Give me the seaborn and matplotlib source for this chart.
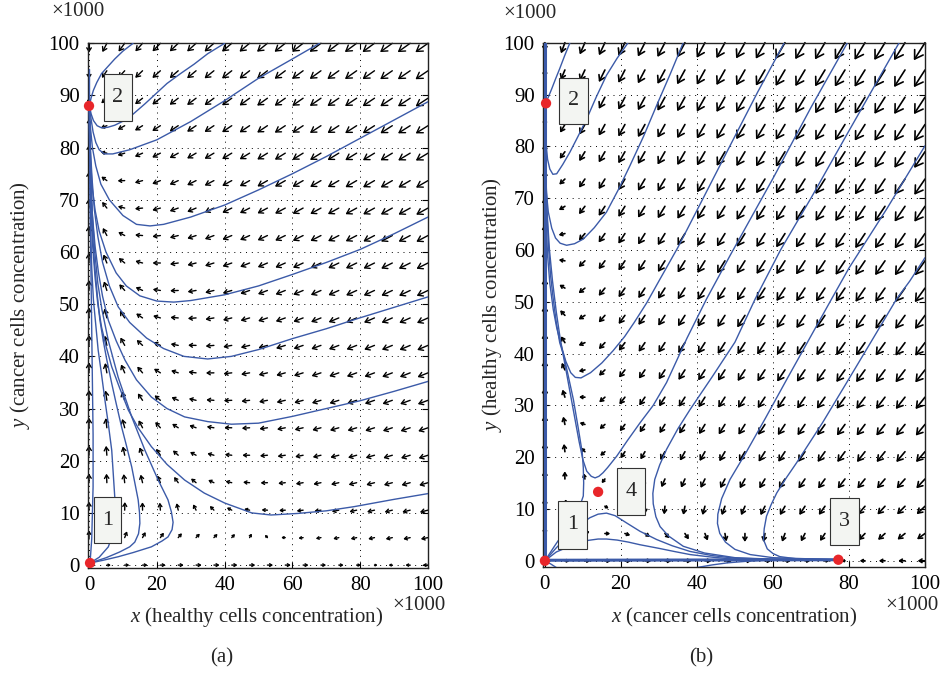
import numpy as np
import pandas as pd
import seaborn as sns
import matplotlib
import matplotlib.pyplot as plt
from matplotlib.patches import Rectangle

# ---------------- data ----------------
# equilibria (x1000 cells)
a_equilibria = [(0.0, 88.0), (0.3, 0.4)]
b_equilibria = [(0.3, 88.3), (0.0, 0.0), (14.0, 13.3), (77.2, 0.2)]

# competition-model parameters used for the direction field (fitted to the nullclines)
a_K = (86.0, 88.0)        # carrying capacities x, y
a_c = (0.079, 0.0161)     # competition coefficients
a_r = (1.0, 2.1)          # growth rates
b_K = (77.5, 88.2)
b_c = (0.0615, 0.0606)
b_r = (1.0, 1.2)

# trajectories, panel (a)
a_curve1 = [(13, 100), (10, 98.5), (7.6, 97), (5.5, 95.5), (3.7, 94.2), (2.3, 92.5), (1.3, 91), (0.6, 89.5), (0.2, 88.3)]
a_curve2 = [(40, 100), (35, 98), (31, 96), (27, 94.2), (23, 92.3), (19.5, 90.2), (16.5, 88.4), (12.6, 86.2), (9.8, 85),
            (7.6, 84.3), (5.5, 83.9), (3.7, 83.8), (2.4, 84.2), (1.3, 85.2), (0.6, 86.5), (0.2, 87.8)]
a_curve3 = [(68, 100), (60, 97), (50, 93.3), (40, 89), (30, 85), (20, 81.5), (12, 79.6), (7, 78.8), (4.5, 78.8),
            (3, 79.6), (2, 81), (1.2, 83), (0.6, 85.5), (0.2, 87.8)]
a_curve4 = [(100, 88.8), (90, 85.3), (80, 81.8), (70, 78.3), (60, 75), (50, 71.9), (40, 69), (30, 66.7), (22, 65.3),
            (18, 65), (14, 65.3), (10, 67), (6, 70), (3.5, 73), (2, 76.5), (1, 80), (0.4, 84), (0.1, 87.5)]
a_curve5 = [(100, 66.7), (90, 63.5), (80, 60.5), (70, 58), (60, 55.7), (50, 53.5), (40, 51.8), (30, 50.7), (25, 50.4),
            (20, 50.6), (15, 51.6), (11, 53.5), (8, 56), (5, 60), (3, 64), (1.8, 68), (1, 72), (0.5, 77), (0.15, 85)]
a_curve6 = [(100, 51.4), (92, 49.8), (80, 47.4), (70, 45.3), (60, 43.4), (50, 41.3), (42, 40), (35, 39.5), (28, 40),
            (22, 41.5), (17, 43.5), (12, 46.5), (8.6, 49.5), (6, 53.5), (4, 58), (2.6, 63), (1.6, 68), (0.9, 74),
            (0.4, 80), (0.1, 87)]
a_curve7 = [(100, 35.2), (90, 33.3), (80, 31.5), (70, 30), (60, 28.5), (50, 27.2), (42, 27), (35, 27.5), (28.2, 28.4),
            (23, 30), (18.4, 32.2), (14, 35.5), (10.6, 39.3), (8, 43), (5.7, 46.9), (4, 51.5), (2.8, 56), (1.8, 61),
            (1, 67), (0.5, 74), (0.15, 84)]
a_curve8 = [(100, 13.7), (90, 12.6), (78.2, 11.2), (70, 10.4), (61.6, 9.9), (53.7, 9.6), (48, 10), (40, 11.9),
            (34, 13.8), (28.2, 16.3), (23, 19.3), (18.4, 22.7), (14.5, 26.3), (11.6, 29.7), (9, 34), (6.7, 38),
            (5, 42), (3.7, 45.6), (2.6, 50), (1.8, 55), (1.1, 61), (0.6, 68), (0.25, 78), (0.05, 87)]
a_curve9 = [(0.3, 0.4), (4, 0.9), (8.6, 1.6), (13, 2.4), (18.4, 3.5), (21.5, 4.6), (23.3, 5.4), (24.5, 6.8),
            (24.8, 8.2), (24.3, 10.2), (23.3, 12.5), (20.4, 16.3), (16.5, 22), (12.6, 28.4), (8.6, 36), (5.7, 43),
            (3.8, 49), (2.6, 54), (1.7, 60), (1, 67), (0.5, 75), (0.15, 85)]
a_curve10 = [(0.3, 0.4), (5, 1.4), (9, 2.5), (12, 3.5), (13.5, 4.4), (14.6, 6), (15, 8), (14.9, 10), (14.5, 12.5),
             (12.6, 18.8), (11, 23), (9.6, 26.5), (8, 31), (6.7, 34.8), (5.2, 39.5), (4.2, 43), (3.2, 47),
             (2.4, 52), (1.6, 58), (1, 64), (0.55, 72), (0.2, 82)]
a_curve11 = [(0.3, 0.4), (3, 1.5), (5.7, 3.5), (7, 6), (7.6, 9), (7.6, 13), (7.2, 17), (6.7, 22), (5.7, 27),
             (4.7, 31.6), (3.7, 36.5), (2.7, 41.2), (2, 46), (1.3, 50.8), (0.8, 57), (0.45, 65), (0.2, 75)]
a_curve12 = [(0.3, 0.4), (0.8, 5), (1.2, 15), (1.2, 25), (1, 35), (0.8, 45), (0.5, 60), (0.25, 75), (0.1, 85)]
a_curve13 = [(0.05, 95), (0.05, 88)]

# trajectories, panel (b)
b_curve1 = [(6.6, 100), (5.2, 97.5), (3.9, 95), (2.8, 93), (1.8, 91.1), (0.9, 89.5), (0.3, 88.5)]
b_curve2 = [(21.9, 100), (19, 97), (16.2, 93.7), (13.5, 89.5), (11, 85.3), (8.7, 81.9), (6.6, 78.9), (4.7, 76.5),
            (3.1, 74.7), (2.1, 74.6), (1.3, 75.6), (0.7, 77.5), (0.3, 80.5), (0.1, 85)]
b_curve3 = [(36.4, 100), (33, 94), (29.4, 87.9), (26, 82), (22.4, 76.3), (19.3, 71.6), (16.2, 67.3), (13, 64.3),
            (10.1, 62.1), (7.8, 61.2), (5.7, 60.9), (4, 61.3), (2.8, 62.3), (1.8, 64.2), (0.9, 67.3), (0.4, 71),
            (0.15, 77)]
b_curve4 = [(63, 100), (56, 90.5), (48.7, 80.1), (42, 70.5), (35, 60.5), (30, 54), (26.8, 49.8), (23.5, 46),
            (21, 43.3), (18, 40.6), (15, 38.2), (12, 36.3), (9.5, 35.3), (8, 35.4), (6.8, 36.3), (5.5, 38.5),
            (4.3, 41.5), (3.1, 45), (2.2, 48.5), (1.3, 53.5), (0.7, 59), (0.3, 66), (0.1, 75)]
b_curve5 = [(79.6, 100), (70, 87.5), (60, 73.8), (48.7, 58.9), (42.5, 50.5), (37.4, 43), (32, 34.4), (28.5, 30),
            (25, 26.6), (21.7, 23.2), (18.9, 20.2), (16.5, 18), (15.3, 17), (14.2, 16.3), (13.2, 16), (12.2, 16.3),
            (11, 17.3), (10, 19.5), (9, 23), (8, 27), (7, 31), (6, 35), (5, 39), (4, 43), (3, 48), (2, 54),
            (1.2, 60), (0.6, 67), (0.2, 76)]
b_curve6 = [(93.2, 100), (80, 83), (70, 70), (62, 60), (55.3, 50.5), (50, 42.2), (44, 35.5), (38.2, 29.2),
            (35, 25.5), (32, 21.5), (30.2, 18.5), (28.9, 15.7), (28.4, 13), (28.5, 11), (29.2, 8.5), (30.3, 6.6),
            (32.5, 4.8), (36.4, 2.8), (42, 1.5), (50, 0.6), (60, 0.3), (77, 0.2)]
b_curve7 = [(100, 80.1), (90, 68), (80, 56.5), (75.4, 50.5), (70, 43.4), (64, 35.5), (58, 27.5), (53, 21),
            (48.7, 15.7), (46.5, 12), (45.5, 9), (45.4, 7.2), (46, 5.3), (47.5, 3.6), (50, 2.2), (54, 1.2),
            (60, 0.6), (77, 0.2)]
b_curve8 = [(100, 58.5), (96, 54), (92.5, 50.5), (86, 42.5), (79.4, 34.4), (73, 26.6), (66.2, 18.9), (63.5, 16),
            (61, 13.1), (59.5, 10.8), (58.3, 8.6), (57.7, 6.2), (57.5, 4.1), (58.5, 2.3), (60, 1.4), (61.8, 0.8),
            (66, 0.4), (77, 0.2)]
b_curve9 = [(0, 0), (2.5, 2.8), (5, 5.5), (7.5, 8.5), (9.3, 10.8), (10.1, 12.5), (10.2, 15), (10.1, 18), (9.8, 21),
            (8.8, 25.5), (7.5, 31.1), (6.2, 35.5), (5, 39.5), (3.9, 42.1), (3, 46), (2.2, 50.5), (1.5, 55),
            (1, 60), (0.6, 66), (0.3, 73), (0.1, 80)]
b_curve10 = [(0, 0), (3, 2.5), (6, 4.8), (9, 6.8), (11.8, 8.3), (14, 9), (16.2, 9.2), (18.5, 8.7), (21.5, 7.3),
             (25, 5.7), (29.4, 4.1), (33.5, 2.9), (38.2, 1.8), (44, 1), (50, 0.5), (60, 0.3), (77, 0.2)]
b_curve11 = [(0, 0), (3, 1.7), (7.5, 3.1), (11, 3.9), (14, 4.2), (16.2, 4.2), (19, 4), (22, 3.6), (25, 3.1),
             (30, 2.4), (34, 1.8), (38.2, 1.2), (44, 0.7), (50, 0.3), (60, 0.2), (77, 0.2)]
b_curve12 = [(40, -1.3), (44, -0.8), (48, -0.4), (53, -0.1), (58, 0.1), (65, 0.15), (77, 0.2)]
b_curve13 = [(0, 0), (1.5, -0.6), (3, -1.3)]
# invariant axes (drawn heavier)
b_axis_lines = [[(0, 0), (0, 88.3)], [(0, 100), (0, 88.3)], [(0, 0.1), (77.2, 0.2)]]

# labelled boxes: (label, x0, y0, x1, y1)
a_boxes = [("2", 4.4, 85.1, 12.6, 94.1), ("1", 1.5, 4.2, 9.4, 13.0)]
b_boxes = [("2", 3.7, 84.3, 11.3, 93.2), ("1", 3.4, 2.3, 11.1, 11.6),
           ("4", 18.9, 8.9, 26.3, 18.0), ("3", 75.0, 3.1, 82.6, 12.2)]

a_xlabel = "$x$ (healthy cells concentration)"
a_ylabel = "$y$ (cancer cells concentration)"
b_xlabel = "$x$ (cancer cells concentration)"
b_ylabel = "$y$ (healthy cells concentration)"

BLUE = "#3b5aa8"
RED = "#e8262a"

sns.set_style("ticks")
plt.rcParams.update({
    "font.family": ["Liberation Serif", "DejaVu Serif"],
    "mathtext.fontset": "custom",
    "mathtext.rm": "Liberation Serif",
    "mathtext.it": "Liberation Serif:italic",
    "font.size": 15,
})


def to_frame(curves):
    rows = []
    for i, c in enumerate(curves):
        for j, (x, y) in enumerate(c):
            rows.append({"curve": i, "order": j, "x": x, "y": y})
    return pd.DataFrame(rows)


def field(K, c, r):
    def f(X, Y):
        U = r[0] * X * (1 - X / K[0] - c[0] * Y)
        V = r[1] * Y * (1 - Y / K[1] - c[1] * X)
        return U, V
    return f


def draw_field(fig, ax, f, L, lw, power=0.24):
    g = np.linspace(0, 100, 20)
    X, Y = np.meshgrid(g, g)
    U, V = f(X, Y)
    M = np.hypot(U, V)
    mmax = M.max()
    for x, y, u, v, m in zip(X.ravel(), Y.ravel(), U.ravel(), V.ravel(), M.ravel()):
        if m < 1e-6:
            continue
        k = L * (m / mmax) ** power / m
        x2, y2 = x + u * k, y + v * k
        p0 = ax.transData.transform((x, y))
        p1 = ax.transData.transform((x2, y2))
        len_pt = np.hypot(*(p1 - p0)) * 72 / fig.dpi
        ax.annotate("", xy=(x2, y2), xytext=(x, y),
                    arrowprops=dict(arrowstyle="->,head_length=0.38,head_width=0.24",
                                    color="k", lw=lw, shrinkA=0, shrinkB=0,
                                    mutation_scale=len_pt),
                    annotation_clip=False, zorder=2)


def style_axes(ax, xlim, ylim):
    ax.set_xlim(*xlim)
    ax.set_ylim(*ylim)
    ax.set_xticks(range(0, 101, 20))
    ax.set_yticks(range(0, 101, 10))
    ax.tick_params(direction="in", length=4, width=0.8, top=True, right=True,
                   labelsize=15, pad=6, colors="k")
    ax.grid(True, color="k", linestyle=(0, (1, 5)), linewidth=0.7)
    ax.set_axisbelow(True)
    for s in ax.spines.values():
        s.set_color("#222222")
        s.set_linewidth(1.0)


def draw_boxes(ax, boxes):
    for lab, x0, y0, x1, y1 in boxes:
        ax.add_patch(Rectangle((x0, y0), x1 - x0, y1 - y0, facecolor="#f3f5f2",
                               edgecolor="#333333", lw=0.8, zorder=5))
        ax.text((x0 + x1) / 2, (y0 + y1) / 2, lab, ha="center", va="center",
                fontsize=16, zorder=6)


W, H = 942, 674
fig = plt.figure(figsize=(W / 100, H / 100), dpi=100)
axA = fig.add_axes([88 / W, (H - 567.7) / H, 340 / W, 524.4 / H])
axB = fig.add_axes([543 / W, (H - 567) / H, 382 / W, 524.3 / H])

style_axes(axA, (-0.3, 100), (-0.5, 100))
style_axes(axB, (-0.5, 100), (-1.2, 100))

draw_field(fig, axA, field(a_K, a_c, a_r), L=4.1, lw=1.0)
draw_field(fig, axB, field(b_K, b_c, b_r), L=4.5, lw=1.2)

a_df = to_frame([a_curve1, a_curve2, a_curve3, a_curve4, a_curve5, a_curve6, a_curve7,
                 a_curve8, a_curve9, a_curve10, a_curve11, a_curve12, a_curve13])
b_df = to_frame([b_curve1, b_curve2, b_curve3, b_curve4, b_curve5, b_curve6, b_curve7,
                 b_curve8, b_curve9, b_curve10, b_curve11, b_curve12, b_curve13])
b_ax_df = to_frame(b_axis_lines)

sns.lineplot(data=a_df, x="x", y="y", units="curve", estimator=None, sort=False,
             color=BLUE, lw=1.0, ax=axA, legend=False, zorder=3)
sns.lineplot(data=b_df, x="x", y="y", units="curve", estimator=None, sort=False,
             color=BLUE, lw=1.0, ax=axB, legend=False, zorder=3)
sns.lineplot(data=b_ax_df, x="x", y="y", units="curve", estimator=None, sort=False,
             color=BLUE, lw=2.2, ax=axB, legend=False, zorder=3)

for ax, eq in [(axA, a_equilibria), (axB, b_equilibria)]:
    ed = pd.DataFrame(eq, columns=["x", "y"])
    sns.scatterplot(data=ed, x="x", y="y", color=RED, s=55, edgecolor="none",
                    ax=ax, zorder=7, clip_on=False, legend=False)

draw_boxes(axA, a_boxes)
draw_boxes(axB, b_boxes)

for ax in (axA, axB):
    ax.set_xlabel("")
    ax.set_ylabel("")

# axis titles and multipliers
fig.text(257 / W, 1 - 617 / H, a_xlabel, ha="center", va="center", fontsize=15)
fig.text(734 / W, 1 - 617 / H, b_xlabel, ha="center", va="center", fontsize=15)
fig.text(20 / W, 1 - 305 / H, a_ylabel, ha="center", va="center", rotation=90, fontsize=15)
fig.text(492 / W, 1 - 305 / H, b_ylabel, ha="center", va="center", rotation=90, fontsize=15)
fig.text(419 / W, 1 - 606 / H, "×1000", ha="center", va="center", fontsize=15)
fig.text(912 / W, 1 - 606 / H, "×1000", ha="center", va="center", fontsize=15)
fig.text(78 / W, 1 - 11 / H, "×1000", ha="center", va="center", fontsize=15)
fig.text(530 / W, 1 - 14 / H, "×1000", ha="center", va="center", fontsize=15)
fig.text(222 / W, 1 - 658 / H, "(a)", ha="center", va="center", fontsize=15)
fig.text(701 / W, 1 - 658 / H, "(b)", ha="center", va="center", fontsize=15)

fig.savefig("out.png", dpi=100)
